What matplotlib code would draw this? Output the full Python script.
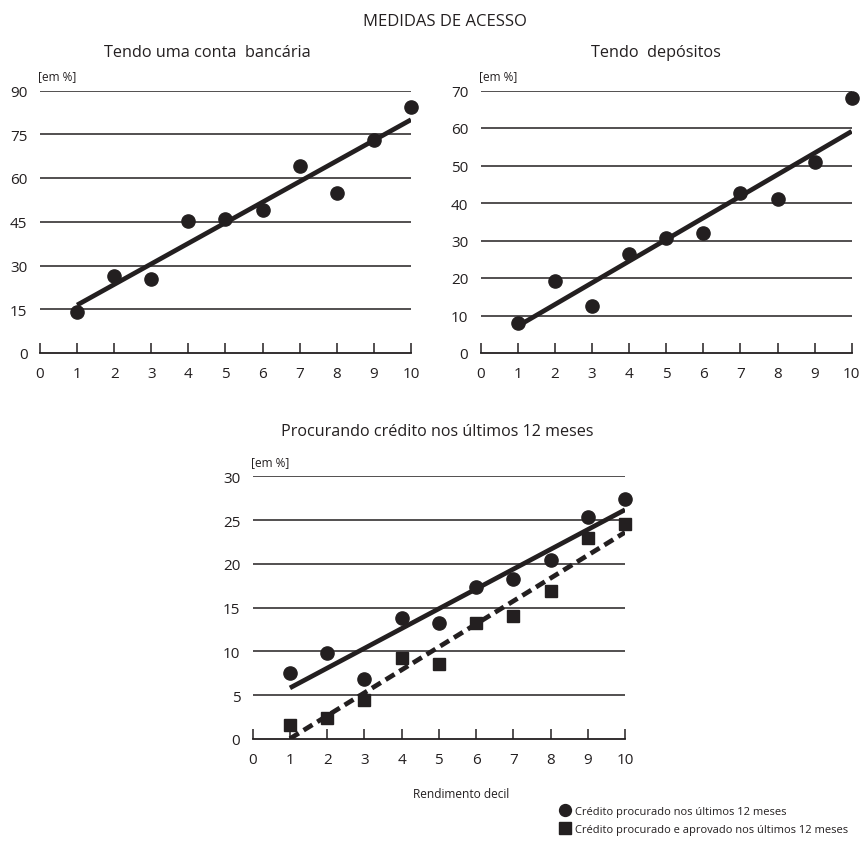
import numpy as np
import matplotlib
matplotlib.use("Agg")
import matplotlib.pyplot as plt

plt.rcParams['font.family'] = ['Open Sans', 'DejaVu Sans']

INK = '#231f20'

deciles = [1, 2, 3, 4, 5, 6, 7, 8, 9, 10]
x_ticks = [0, 1, 2, 3, 4, 5, 6, 7, 8, 9, 10]

conta_bancaria = [14.0, 26.3, 25.5, 45.3, 45.9, 49.0, 64.0, 54.9, 73.0, 84.2]
depositos = [8.1, 19.3, 12.5, 26.4, 30.6, 32.0, 42.7, 41.0, 50.9, 67.9]
credito_procurado = [7.5, 9.8, 6.85, 13.8, 13.3, 17.4, 18.3, 20.4, 25.3, 27.4]
credito_aprovado = [1.6, 2.4, 4.5, 9.3, 8.6, 13.3, 14.0, 16.9, 23.0, 24.6]

yticks_conta = [0, 15, 30, 45, 60, 75, 90]
yticks_depositos = [0, 10, 20, 30, 40, 50, 60, 70]
yticks_credito = [0, 5, 10, 15, 20, 25, 30]

main_title = 'MEDIDAS DE ACESSO'
titles = ['Tendo uma conta  bancária', 'Tendo  depósitos',
          'Procurando crédito nos últimos 12 meses']
unit_label = '[em %]'
x_label = 'Rendimento decil'
legend_labels = ['Crédito procurado nos últimos 12 meses',
                 'Crédito procurado e aprovado nos últimos 12 meses']

W, H = 862, 845
fig = plt.figure(figsize=(W / 100, H / 100), dpi=100)


def px_axes(left, top, right, bottom):
    return fig.add_axes([left / W, 1 - bottom / H, (right - left) / W, (bottom - top) / H])


def style_axes(ax, yticks):
    ax.set_xlim(0, 10)
    ax.set_ylim(0, yticks[-1])
    for s in ('top', 'right', 'left'):
        ax.spines[s].set_visible(False)
    ax.spines['bottom'].set_linewidth(1.3)
    ax.spines['bottom'].set_color(INK)
    ax.spines['bottom'].set_zorder(1)
    ax.set_xticks(x_ticks)
    ax.set_yticks(yticks)
    ax.tick_params(axis='x', direction='in', length=7.5, width=1.1, color=INK,
                   labelsize=11, labelcolor=INK, pad=9.5)
    ax.tick_params(axis='y', length=0, labelsize=11, labelcolor=INK, pad=9)
    for v in yticks[1:]:
        ax.axhline(v, color=INK, lw=1.1, zorder=1)
    ax.annotate(unit_label, xy=(0, 1), xycoords='axes fraction',
                xytext=(-2, 15), textcoords='offset pixels',
                ha='left', va='center', fontsize=8.5, color=INK)


def fit_line(ax, y, **kw):
    slope, intercept = np.polyfit(deciles, y, 1)
    xs = np.array([deciles[0], deciles[-1]])
    ax.plot(xs, slope * xs + intercept, color=INK, lw=3.4, zorder=3,
            solid_capstyle='butt', dash_capstyle='butt', **kw)


mk = dict(color=INK, zorder=4, clip_on=False, linestyle='none')

# Top-left: bank account
ax1 = px_axes(40, 91.5, 411, 354)
style_axes(ax1, yticks_conta)
ax1.plot(deciles, conta_bancaria, marker='o', ms=9.5, **mk)
fit_line(ax1, conta_bancaria)

# Top-right: deposits
ax2 = px_axes(480.7, 91.5, 851.7, 354)
style_axes(ax2, yticks_depositos)
ax2.plot(deciles, depositos, marker='o', ms=9.5, **mk)
fit_line(ax2, depositos)

# Bottom: credit
ax3 = px_axes(252.7, 477.3, 625, 740)
style_axes(ax3, yticks_credito)
h1, = ax3.plot(deciles, credito_procurado, marker='o', ms=9.5, **mk)
h2, = ax3.plot(deciles, credito_aprovado, marker='s', ms=9, **mk)
fit_line(ax3, credito_procurado)
fit_line(ax3, credito_aprovado, linestyle=(0, (2.2, 1.2)))

# Titles
fig.text(444.7 / W, 1 - 21.7 / H, main_title, ha='center', va='center',
         fontsize=12, color=INK)
fig.text(207 / W, 1 - 53 / H, titles[0], ha='center', va='center',
         fontsize=11.7, color=INK)
fig.text(656 / W, 1 - 53 / H, titles[1], ha='center', va='center',
         fontsize=11.7, color=INK)
fig.text(437 / W, 1 - 432 / H, titles[2], ha='center', va='center',
         fontsize=11.6, color=INK)
fig.text(461 / W, 1 - 795 / H, x_label, ha='center', va='center',
         fontsize=8.6, color=INK)

fig.legend([h1, h2], legend_labels, loc='upper left',
           bbox_to_anchor=(561 / W, 1 - 807 / H), frameon=False,
           handlelength=0.8, handletextpad=0.45, labelspacing=0.65,
           borderpad=0, borderaxespad=0, fontsize=8.0, markerscale=0.9,
           labelcolor=INK)

fig.savefig('out.png', dpi=100, facecolor='white')
